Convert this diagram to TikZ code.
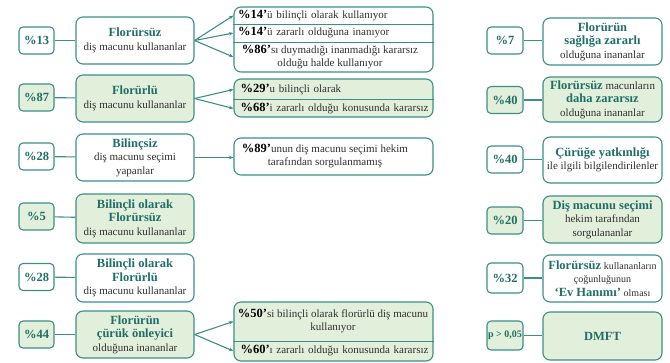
\documentclass[tikz,border=0pt]{standalone}
\usepackage{fontspec}
\setmainfont{Liberation Serif}
\usetikzlibrary{arrows.meta}
\definecolor{tealb}{HTML}{3C8F87}
\definecolor{tealt}{HTML}{1F6E68}
\definecolor{greenf}{HTML}{E2EFDA}
\definecolor{txt}{HTML}{303030}
\newcommand{\hl}[1]{{\fontsize{12.5}{14}\selectfont\bfseries\color{tealt}#1}}
\newcommand{\pc}[1]{{\fontsize{12.5}{14}\selectfont\bfseries\color{black}#1}}
\newcommand{\sm}[1]{{\fontsize{10}{12}\selectfont #1}}
\begin{document}
\begin{tikzpicture}[x=1pt,y=-1pt,
  box/.style={draw=tealb,line width=1.1pt,rounded corners=4pt,inner sep=1pt,align=center,text=txt,font=\fontsize{11}{13.5}\selectfont},
  pbox/.style={box,minimum width=35pt,minimum height=27pt,font=\fontsize{12.5}{14}\selectfont\bfseries,text=tealt},
  bbox/.style={box,rounded corners=7pt,minimum width=118pt},
  lbox/.style={box,rounded corners=7pt,minimum width=199pt},
  rowt/.style={inner sep=0pt,text=txt,font=\fontsize{11}{13}\selectfont},
  gf/.style={fill=greenf},
  link/.style={draw=tealb,line width=1.1pt},
  divl/.style={draw=tealb,line width=0.8pt},
  arr/.style={link,-{Stealth[length=4.5pt,width=3.5pt]}}
]
\useasboundingbox (0,0) rectangle (670,362);

% ---------------- left column ----------------
\node[pbox] (p1) at (36.5,40.5) {\%13};
\node[bbox,minimum height=47pt] (b1) at (135,40.5) {\hl{Florürsüz}\\diş macunu kullananlar};
\draw[link] (p1) -- (b1);

\node[pbox,gf] (p2) at (36.5,97.5) {\%87};
\node[bbox,gf,minimum height=47pt] (b2) at (135,98.5) {\hl{Florürlü}\\diş macunu kullananlar};
\draw[link] (p2) -- (b2);

\node[pbox] (p3) at (36.5,156.5) {\%28};
\node[bbox,minimum height=47pt] (b3) at (135,157.5) {\hl{Bilinçsiz}\\diş macunu seçimi\\yapanlar};
\draw[link] (p3) -- (b3);

\node[pbox,gf] (p4) at (36.5,216.5) {\%5};
\node[bbox,gf,minimum height=49pt] (b4) at (135,218.5) {\hl{Bilinçli olarak}\\\hl{Florürsüz}\\diş macunu kullananlar};
\draw[link] (p4) -- (b4);

\node[pbox] (p5) at (36.5,277) {\%28};
\node[bbox,minimum height=48pt] (b5) at (135,278) {\hl{Bilinçli olarak}\\\hl{Florürlü}\\diş macunu kullananlar};
\draw[link] (p5) -- (b5);

\node[pbox,gf] (p6) at (36.5,334.5) {\%44};
\node[bbox,gf,minimum height=47pt] (b6) at (135,334.5) {\hl{Florürün}\\\hl{çürük önleyici}\\olduğuna inananlar};
\draw[link] (p6) -- (b6);

% ---------------- middle lists ----------------
\node[lbox,minimum height=65pt] (la) at (333.5,39.5) {};
\coordinate (ya1) at (0,24);
\coordinate (ya2) at (0,42);
\draw[divl] (la.west |- ya1) -- (la.east |- ya1);
\draw[divl] (la.west |- ya2) -- (la.east |- ya2);
\node[rowt,text width=191pt,align=left] (a1) at (333.5,15.5) {\pc{\%14’}ü bilinçli olarak kullanıyor};
\node[rowt,text width=191pt,align=left] (a2) at (333.5,33) {\pc{\%14’}ü zararlı olduğuna inanıyor};
\node[rowt,align=center] (a3) at (330,57) {\pc{\%86’}sı duymadığı inanmadığı kararsız\\olduğu halde kullanıyor};
\draw[arr] (b1.east) -- (la.west |- a1);
\draw[arr] (b1.east) -- (la.west |- a2);
\draw[arr] (b1.east) -- (la.west |- a3);

\node[lbox,gf,minimum height=38pt] (lb) at (333.5,98) {};
\coordinate (yb1) at (0,99.5);
\draw[divl] (lb.west |- yb1) -- (lb.east |- yb1);
\node[rowt,text width=189pt,align=left] (bb1) at (335,89.5) {\pc{\%29’}u bilinçli olarak};
\node[rowt,text width=189pt,align=left] (bb2) at (335,108.5) {\pc{\%68’}i zararlı olduğu konusunda kararsız};
\draw[arr] (b2.east) -- (lb.west |- bb1);
\draw[arr] (b2.east) -- (lb.west |- bb2);

\node[lbox,minimum height=37pt] (lc) at (333.5,156.5) {};
\node[rowt,align=center] (c1) at (325,156.5) {\pc{\%89’}unun diş macunu seçimi hekim\\tarafından sorgulanmamış};
\draw[arr] (b3.east) -- (lc.west |- b3.east);

\node[lbox,gf,minimum height=59pt] (ld) at (333.5,331.5) {};
\coordinate (yd1) at (0,341);
\draw[divl] (ld.west |- yd1) -- (ld.east |- yd1);
\node[rowt,align=center] (d1) at (333,321.5) {\pc{\%50’}si bilinçli olarak florürlü diş macunu\\kullanıyor};
\node[rowt,text width=189pt,align=left] (d2) at (335,351) {\pc{\%60’}ı zararlı olduğu konusunda kararsız};
\draw[arr] (b6.east) -- (ld.west |- d1);
\draw[arr] (b6.east) -- (ld.west |- d2);

% ---------------- right column ----------------
\node[pbox,minimum width=36pt] (q1) at (505,40.5) {\%7};
\node[bbox,minimum width=119pt,minimum height=47pt] (r1) at (602.5,41.5) {\hl{Florürün}\\\hl{sağlığa zararlı}\\olduğuna inananlar};
\draw[link] (q1) -- (q1 -| r1.west);

\node[pbox,gf,minimum width=36pt] (q2) at (505,100) {\%40};
\node[bbox,gf,minimum width=119pt,minimum height=45pt] (r2) at (602.5,99.5) {\hl{Florürsüz} macunların\\\hl{daha zararsız}\\olduğuna inananlar};
\draw[link] (q2) -- (q2 -| r2.west);

\node[pbox,minimum width=36pt] (q3) at (505,159.5) {\%40};
\node[bbox,minimum width=119pt,minimum height=46pt] (r3) at (602.5,160) {\hl{Çürüğe yatkınlığı}\\ile ilgili bilgilendirilenler};
\draw[link] (q3) -- (q3 -| r3.west);

\node[pbox,gf,minimum width=36pt] (q4) at (505,220.5) {\%20};
\node[bbox,gf,minimum width=119pt,minimum height=47pt] (r4) at (602.5,219.5) {\hl{Diş macunu seçimi}\\hekim tarafından\\sorgulananlar};
\draw[link] (q4) -- (q4 -| r4.west);

\node[pbox,minimum width=36pt,minimum height=30pt] (q5) at (505,278) {\%32};
\node[bbox,minimum width=119pt,minimum height=47pt] (r5) at (602.5,278.5) {\hl{Florürsüz} \sm{kullananların}\\\sm{çoğunluğunun}\\\hl{‘Ev Hanımı’} \sm{olması}};
\draw[link] (q5) -- (q5 -| r5.west);

\node[pbox,gf,minimum width=36pt,minimum height=29pt,inner sep=0pt,font=\fontsize{10}{12}\selectfont\bfseries] (q6) at (505,335.5) {p > 0,05};
\node[bbox,gf,minimum width=119pt,minimum height=48pt] (r6) at (602.5,336) {\hl{DMFT}};
\draw[link] (q6) -- (q6 -| r6.west);
\end{tikzpicture}
\end{document}
